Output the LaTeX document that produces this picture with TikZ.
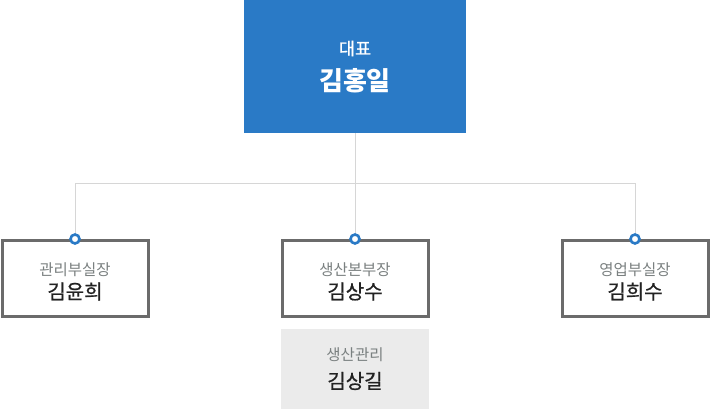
\documentclass[tikz,border=0pt]{standalone}
\usepackage{fontspec}
\setmainfont{Noto Sans CJK KR}
\newfontfamily\medfont[FakeBold=0.8]{Noto Sans CJK KR}
\definecolor{ceoblue}{HTML}{2A7AC6}
\definecolor{boxgray}{HTML}{6B6B6B}
\definecolor{linegray}{HTML}{D6D6D6}
\definecolor{subgray}{HTML}{7A8080}
\definecolor{namecol}{HTML}{222222}
\definecolor{subfill}{HTML}{EBEBEB}
\tikzset{
  mgr/.style={draw=boxgray, line width=3pt, fill=white, minimum width=146pt, minimum height=76pt, inner sep=0},
  ceobox/.style={fill=ceoblue, minimum width=222pt, minimum height=133pt, inner sep=0},
  subbox/.style={fill=subfill, minimum width=148pt, minimum height=80pt, inner sep=0},
  conn/.style={draw=linegray, line width=1pt},
  dot/.style={circle, draw=ceoblue, fill=white, line width=2.6pt, minimum size=9pt, inner sep=0},
  rolet/.style={font=\fontsize{15.5}{15.5}\selectfont, text=subgray, inner sep=0},
  namet/.style={font=\medfont\fontsize{20}{20}\selectfont, text=namecol, inner sep=0},
}
\begin{document}
\begin{tikzpicture}[x=1pt,y=-1pt]
\useasboundingbox (0,0) rectangle (710,409);
\node[ceobox] (ceo) at (355,66.5) {};
\node[mgr] (m1) at (75,278.5) {};
\node[mgr] (m2) at (355,278.5) {};
\node[mgr] (m3) at (635,278.5) {};
\node[subbox] (sb) at (355,369) {};
\coordinate (j1) at (75,184);
\coordinate (j3) at (635,184);
\draw[conn] (ceo.south) -- (m2.north);
\draw[conn] (m1.north) -- (j1) -- (j3) -- (m3.north);
\node[dot] (d1) at (m1.north) {};
\node[dot] (d2) at (m2.north) {};
\node[dot] (d3) at (m3.north) {};
\node[font=\medfont\fontsize{17.5}{17.5}\selectfont, text=white, inner sep=0] (ceot) at (355,48.5) {대표};
\node[font=\bfseries\fontsize{26}{26}\selectfont, text=white, inner sep=0] (ceon) at (355,81) {김홍일};
\node[rolet] (m1t) at (75,270) {관리부실장};
\node[namet] (m1n) at (75,291.5) {김윤희};
\node[rolet] (m2t) at (355,270) {생산본부장};
\node[namet] (m2n) at (355,291.5) {김상수};
\node[rolet] (m3t) at (635,270) {영업부실장};
\node[namet] (m3n) at (635,291.5) {김희수};
\node[rolet] (sbt) at (355,355) {생산관리};
\node[namet] (sbn) at (355,381) {김상길};
\end{tikzpicture}
\end{document}
